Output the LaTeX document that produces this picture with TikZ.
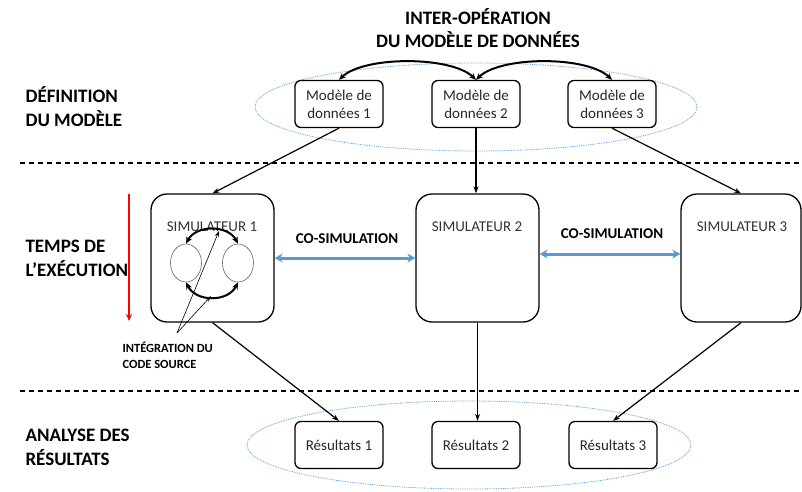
\documentclass[tikz,border=0pt]{standalone}
\usepackage{fontspec}
\setmainfont{Carlito}
\usetikzlibrary{arrows.meta,shapes.geometric}
\definecolor{coblue}{HTML}{5B9BD5}
\definecolor{tred}{HTML}{FF0000}

\begin{document}
\begin{tikzpicture}[x=1pt,y=-1pt,
	box/.style={draw,rounded corners=6pt,line width=1.3pt,minimum width=88pt,minimum height=47pt,inner sep=0pt,align=center,font=\fontsize{15}{18}\selectfont,text=black!85},
	simbox/.style={draw,rounded corners=16pt,line width=1.3pt,minimum width=123pt,minimum height=128pt,inner sep=0pt},
	simtext/.style={font=\fontsize{15}{18}\selectfont,text=black!80},
	phase/.style={anchor=west,align=left,font=\fontsize{19}{24}\selectfont\bfseries},
	cosim/.style={font=\fontsize{15}{18}\selectfont\bfseries},
	conn/.style={line width=1.2pt,-{Stealth[length=7pt,width=5pt]}},
	swap/.style={line width=2pt,{Stealth[length=7pt,width=6pt]}-{Stealth[length=7pt,width=6pt]}},
	coarrow/.style={coblue,line width=3pt,{Stealth[length=8pt,width=9pt]}-{Stealth[length=8pt,width=9pt]}},
	group/.style={coblue,densely dotted,line width=0.8pt},
	]
	\useasboundingbox (0,0) rectangle (802,491);

	% titres
	\node (title) [align=center,font=\fontsize{19}{23}\selectfont\bfseries] at (478,28) {INTER-OPÉRATION\\DU MODÈLE DE DONNÉES};
	\node (p1) [phase] at (22,107) {DÉFINITION\\DU MODÈLE};
	\node (p2) [phase] at (22,258) {TEMPS DE\\L'EXÉCUTION};
	\node (p3) [phase] at (22,447) {ANALYSE DES\\RÉSULTATS};

	% séparations
	\draw [dashed,line width=1.2pt,dash pattern=on 5pt off 4pt] (20,163) -- (802,163);
	\draw [dashed,line width=1.2pt,dash pattern=on 5pt off 4pt] (20,391) -- (802,391);

	% regroupements
	\draw [group] (476,107) ellipse (221 and 44);
	\draw [group] (469,445) ellipse (222 and 44);

	% modèles de données
	\node (m1) [box] at (339,104) {Modèle de\\données 1};
	\node (m2) [box] at (476,104) {Modèle de\\données 2};
	\node (m3) [box] at (612,104) {Modèle de\\données 3};
	\draw [swap] (m1.north) .. controls +(25,-24) and +(-25,-24) .. (m2.north);
	\draw [swap] (m2.north) .. controls +(25,-24) and +(-25,-24) .. (m3.north);

	% simulateurs
	\node (s1) [simbox] at (212.5,258) {};
	\node (s2) [simbox] at (477.5,258) {};
	\node (s3) [simbox,minimum width=120pt] at (741,258) {};
	\node (s1t) [simtext] at (212,227) {SIMULATEUR 1};
	\node (s2t) [simtext] at (477,227) {SIMULATEUR 2};
	\node (s3t) [simtext] at (742,227) {SIMULATEUR 3};

	% code source dans le simulateur 1
	\node (e1) [ellipse,draw=black!60,line width=0.6pt,minimum width=31pt,minimum height=38pt] at (186,263) {};
	\node (e2) [ellipse,draw=black!60,line width=0.6pt,minimum width=31pt,minimum height=38pt] at (238,263) {};
	\draw [swap] (e1.north) .. controls +(10,-19) and +(-10,-19) .. (e2.north);
	\draw [swap] (e1.south) .. controls +(10,20) and +(-10,20) .. (e2.south);
	\node (integ) [anchor=north west,align=left,font=\fontsize{12.5}{16}\selectfont\bfseries] at (119,338) {INTÉGRATION DU\\CODE SOURCE};
	\coordinate (ann) at (177,333);
	\coordinate (annup) at (219,231);
	\coordinate (anndown) at (211,296);
	\draw [line width=0.6pt,-{Stealth[length=6pt,width=4pt]}] (ann) -- (annup);
	\draw [line width=0.6pt,-{Stealth[length=6pt,width=4pt]}] (ann) -- (anndown);

	% co-simulation
	\draw [coarrow] (s1.east) -- (s2.west);
	\draw [coarrow] ([yshift=4pt]s2.east) -- ([yshift=4pt]s3.west);
	\node (c1) [cosim] at (347,239) {CO-SIMULATION};
	\node (c2) [cosim] at (612,234) {CO-SIMULATION};

	% temps
	\coordinate (t0) at (129,194);
	\coordinate (t1) at (129,321);
	\draw [tred,line width=1.3pt,-{Stealth[length=7pt,width=6pt]}] (t0) -- (t1);

	% résultats
	\node (r1) [box] at (339,445) {Résultats 1};
	\node (r2) [box] at (476,445) {Résultats 2};
	\node (r3) [box] at (613,445) {Résultats 3};

	% liaisons
	\draw [conn] (m1.south) -- (s1.north);
	\draw [conn] (m2.south) -- (m2.south |- s2.north);
	\draw [conn] (m3.south) -- (s3.north);
	\draw [conn] (s1.south) -- (r1.north);
	\draw [conn] (s2.south) -- (s2.south |- r2.north);
	\draw [conn] (s3.south) -- (r3.north);
\end{tikzpicture}
\end{document}
